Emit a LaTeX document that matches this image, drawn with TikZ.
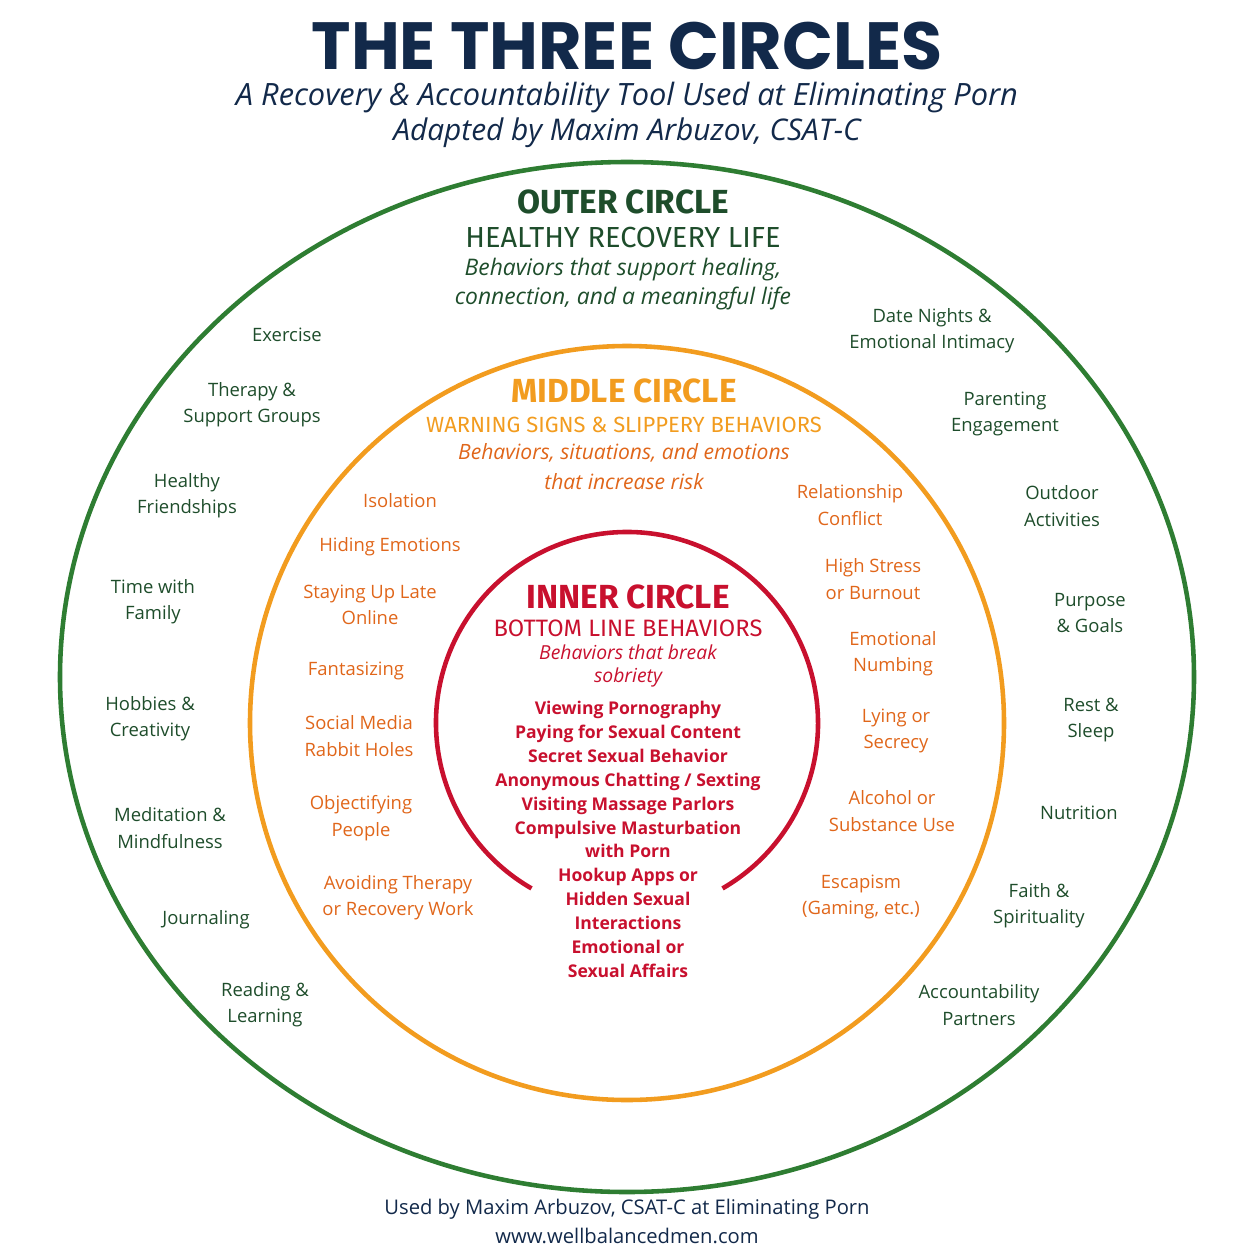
\documentclass[tikz,border=0pt]{standalone}
\usepackage{fontspec}
\setmainfont{Open Sans}
\newfontfamily\titlefont{Poppins}
\newfontfamily\headfont{Fira Sans}
\definecolor{navy}{HTML}{12294A}
\definecolor{ringgreen}{HTML}{2E7D32}
\definecolor{textgreen}{HTML}{1E4D2B}
\definecolor{ringorange}{HTML}{F29C1F}
\definecolor{textorange}{HTML}{E0661A}
\definecolor{ringred}{HTML}{C8102E}
\definecolor{textred}{HTML}{C8102E}
\usetikzlibrary{positioning}
\tikzset{
  outerlbl/.style={text=textgreen, align=center, font=\fontsize{10.5}{15}\selectfont},
  midlbl/.style={text=textorange, align=center, font=\fontsize{10.5}{15}\selectfont},
  innerlbl/.style={text=textred, align=center, font=\fontsize{10}{13.6}\selectfont\bfseries},
  head/.style={align=center, font=\headfont\fontsize{19}{22}\selectfont\bfseries},
  subhead/.style={align=center, font=\headfont\fontsize{13.5}{16}\selectfont},
  note/.style={align=center, font=\fontsize{11}{17}\selectfont\itshape},
}
\begin{document}
\begin{tikzpicture}[x=0.02cm,y=-0.02cm]
\useasboundingbox (0,0) rectangle (1254,1254);
%Title block
\node[text=navy, font=\titlefont\fontsize{38}{40}\selectfont\bfseries, inner sep=0pt] (title) at (627,46) {THE THREE CIRCLES};
\node[text=navy, font=\fontsize{17.5}{22}\selectfont\itshape, inner sep=1pt] (sub1) at (627,98) {A Recovery \& Accountability Tool Used at Eliminating Porn};
\node[text=navy, font=\fontsize{17}{22}\selectfont\itshape, inner sep=1pt] (sub2) at (627,133) {Adapted by Maxim Arbuzov, CSAT-C};
%Rings
\draw[ringgreen, line width=2.6pt] (627,677) ellipse [x radius=567, y radius=515];
\draw[ringorange, line width=2.6pt] (627,723) circle [radius=377];
\draw[ringred, line width=2.6pt] (627,723) ++(120:191) arc[start angle=120, end angle=420, radius=191];
%Outer circle
\node[head, text=textgreen] (outerhead) at (623,202) {OUTER CIRCLE};
\node[subhead, text=textgreen, font=\headfont\fontsize{16.5}{19}\selectfont] (outersub) at (623,238) {HEALTHY RECOVERY LIFE};
\node[note, text=textgreen, font=\fontsize{13}{17}\selectfont\itshape] (outernote) at (623,284) {Behaviors that support healing,\\connection, and a meaningful life};
\node[outerlbl] (exercise) at (287,335) {Exercise};
\node[outerlbl] (therapy) at (252,405) {Therapy \&\\Support Groups};
\node[outerlbl] (friends) at (187,496) {Healthy\\Friendships};
\node[outerlbl] (family) at (153,602) {Time with\\Family};
\node[outerlbl] (hobbies) at (150,719) {Hobbies \&\\Creativity};
\node[outerlbl] (meditation) at (170,828) {Meditation \&\\Mindfulness};
\node[outerlbl] (journal) at (206,920) {Journaling};
\node[outerlbl] (reading) at (265,1005) {Reading \&\\Learning};
\node[outerlbl] (datenights) at (932,331) {Date Nights \&\\Emotional Intimacy};
\node[outerlbl] (parenting) at (1005,414) {Parenting\\Engagement};
\node[outerlbl] (outdoor) at (1062,506) {Outdoor\\Activities};
\node[outerlbl] (purpose) at (1090,613) {Purpose\\\& Goals};
\node[outerlbl] (rest) at (1091,720) {Rest \&\\Sleep};
\node[outerlbl] (nutrition) at (1079,813) {Nutrition};
\node[outerlbl] (faith) at (1039,906) {Faith \&\\Spirituality};
\node[outerlbl] (partners) at (979,1005) {Accountability\\Partners};
%Middle circle
\node[head, text=ringorange] (midhead) at (624,391) {MIDDLE CIRCLE};
\node[subhead, text=ringorange, font=\headfont\fontsize{12.5}{15}\selectfont] (midsub) at (624,425) {WARNING SIGNS \& SLIPPERY BEHAVIORS};
\node[note, text=textorange, font=\fontsize{12}{17}\selectfont\itshape] (midnote) at (624,467) {Behaviors, situations, and emotions\\that increase risk};
\node[midlbl] (isolation) at (400,501) {Isolation};
\node[midlbl] (hiding) at (390,547) {Hiding Emotions};
\node[midlbl] (late) at (370,605) {Staying Up Late\\Online};
\node[midlbl] (fantasy) at (356,671) {Fantasizing};
\node[midlbl] (social) at (359,736) {Social Media\\Rabbit Holes};
\node[midlbl] (objectify) at (361,818) {Objectifying\\People};
\node[midlbl] (avoid) at (398,898) {Avoiding Therapy\\or Recovery Work};
\node[midlbl] (conflict) at (850,505) {Relationship\\Conflict};
\node[midlbl] (stress) at (873,579) {High Stress\\or Burnout};
\node[midlbl] (numbing) at (893,654) {Emotional\\Numbing};
\node[midlbl] (lying) at (896,731) {Lying or\\Secrecy};
\node[midlbl] (alcohol) at (892,811) {Alcohol or\\Substance Use};
\node[midlbl] (escapism) at (861,897) {Escapism\\(Gaming, etc.)};
%Inner circle
\node[head, text=textred] (innerhead) at (628,597) {INNER CIRCLE};
\node[subhead, text=textred] (innersub) at (628,628) {BOTTOM LINE BEHAVIORS};
\node[note, text=textred, font=\fontsize{11}{13.6}\selectfont\itshape] (innernote) at (628,666) {Behaviors that break\\sobriety};
\node[innerlbl, anchor=north] (innerlist) at (628,695) {Viewing Pornography\\Paying for Sexual Content\\Secret Sexual Behavior\\Anonymous Chatting / Sexting\\Visiting Massage Parlors\\Compulsive Masturbation\\with Porn\\Hookup Apps or\\Hidden Sexual\\Interactions\\Emotional or\\Sexual Affairs};
%Footer
\node[text=navy, font=\fontsize{11.5}{15}\selectfont] (foot1) at (627,1209) {Used by Maxim Arbuzov, CSAT-C at Eliminating Porn};
\node[text=navy, font=\fontsize{11.5}{15}\selectfont] (foot2) at (627,1236) {www.wellbalancedmen.com};
\end{tikzpicture}
\end{document}
